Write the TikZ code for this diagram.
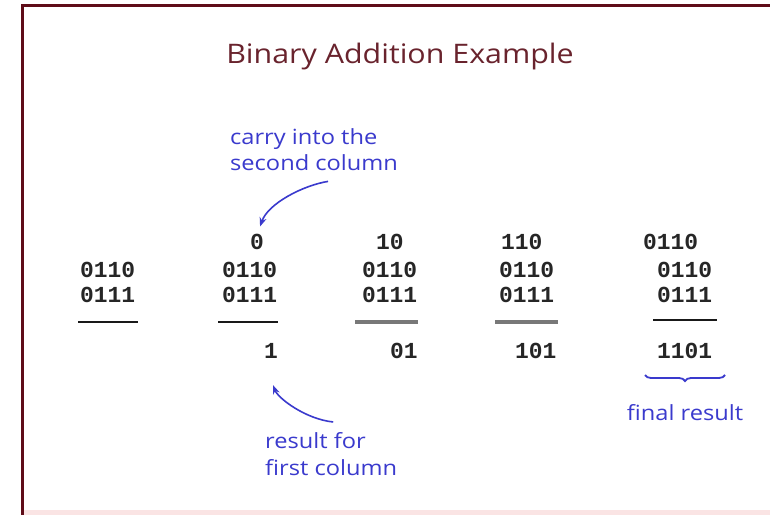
\documentclass[tikz,border=0pt]{standalone}
\usepackage{fontspec}
\setmainfont{Open Sans}
\newfontfamily\notefont[FakeStretch=1.13]{Open Sans}
\newfontfamily\digitfont{Liberation Mono}
\usetikzlibrary{decorations.pathreplacing,arrows.meta,calc}
\definecolor{framered}{RGB}{95,12,24}
\definecolor{titlered}{RGB}{105,35,45}
\definecolor{noteblue}{RGB}{58,58,205}
\definecolor{sumgray}{RGB}{120,120,120}
\definecolor{edgepink}{RGB}{250,228,228}
\begin{document}
\begin{tikzpicture}[x=1bp,y=-1bp,
  digits/.style={anchor=base west,inner sep=0pt,font=\digitfont\bfseries\fontsize{23}{23}\selectfont,text=black!85},
  note/.style={anchor=north west,inner sep=0pt,align=left,text=noteblue,font=\notefont\fontsize{21}{27}\selectfont},
  rule/.style={line width=2.6bp,black!90},
  grayrule/.style={line width=3.4bp,sumgray},
  pointer/.style={noteblue,line width=1.6bp,-{Stealth[length=9bp,width=7bp]}}]
\useasboundingbox (0,0) rectangle (770,515);
\fill[white] (0,0) rectangle (770,515);
% page edge
\fill[edgepink] (22,510) rectangle (770,515);
\draw[framered,line width=3bp] (22,515) -- (22,6) -- (770,6);
% title
\node[text=titlered,font=\notefont\fontsize{27}{27}\selectfont,inner sep=0pt] (title) at (400,57) {Binary Addition Example};
% column 1
\node[digits] (a1) at (80,278) {0110};
\node[digits] (b1) at (80,303) {0111};
\draw[rule] (78,322) -- (138,322);
% column 2
\node[digits] (c2) at (250,250) {0};
\node[digits] (a2) at (222,278) {0110};
\node[digits] (b2) at (222,303) {0111};
\draw[rule] (218,322) -- (278,322);
\node[digits] (r2) at (264,358) {1};
% column 3
\node[digits] (c3) at (376,250) {10};
\node[digits] (a3) at (362,278) {0110};
\node[digits] (b3) at (362,303) {0111};
\draw[grayrule] (355,322) -- (418,322);
\node[digits] (r3) at (390,358) {01};
% column 4
\node[digits] (c4) at (501,250) {110};
\node[digits] (a4) at (499,278) {0110};
\node[digits] (b4) at (499,303) {0111};
\draw[grayrule] (495,322) -- (558,322);
\node[digits] (r4) at (515,358) {101};
% column 5
\node[digits] (c5) at (643,250) {0110};
\node[digits] (a5) at (657,278) {0110};
\node[digits] (b5) at (657,303) {0111};
\draw[rule] (653,320) -- (717,320);
\node[digits] (r5) at (657,358) {1101};
% notes
\node[note] (carrynote) at (230,128) {carry into the\\second column};
\node[note] (firstnote) at (265,432) {result for\\first column};
\node[text=noteblue,font=\notefont\fontsize{21}{27}\selectfont,inner sep=0pt] (finalnote) at (685,413) {final result};
% pointers
\draw[pointer] ($(carrynote.south)+(14,10)$) .. controls +(-25,4) and +(8,-23) .. ($(c2.north)+(3,-8)$);
\draw[pointer] ($(firstnote.north)+(2,-10)$) .. controls +(-28,-3) and +(5,13) .. ($(r2.south)+(2,27)$);
\draw[decorate,decoration={brace,mirror,amplitude=6bp},noteblue,line width=1.8bp] (645,375) -- (725,375);
\end{tikzpicture}
\end{document}
